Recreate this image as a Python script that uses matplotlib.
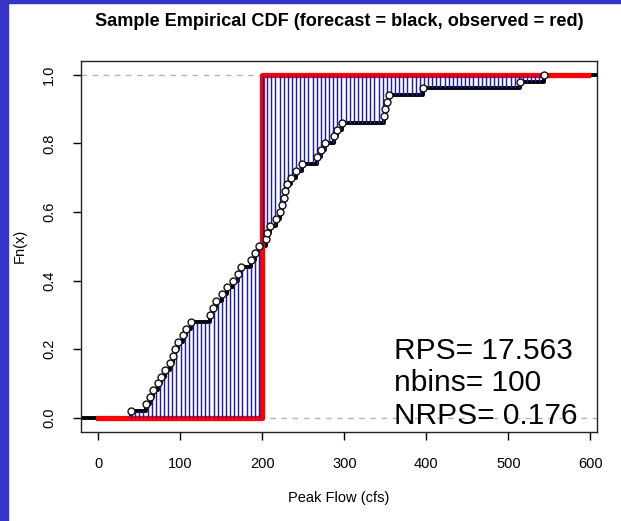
import numpy as np
import matplotlib.pyplot as plt
from matplotlib.patches import Rectangle

# forecast ensemble members (peak flow, cfs)
forecast = [40, 58, 63, 67, 73, 77, 81, 88, 91, 94,
            97, 103, 107, 113, 136, 140, 143, 151, 157, 164,
            170, 174, 186, 191, 196, 204, 206, 210, 217, 221,
            224, 227, 228, 230, 235, 241, 249, 267, 272, 277,
            287, 291, 297, 348, 350, 352, 354, 396, 514, 543]
observed = [200]
obs_extent = [0, 597]
nbins = 100
scores = ["RPS= 17.563", "nbins= 100", "NRPS= 0.176"]
score_y = [0.196, 0.100, 0.006]

xticks = [0, 100, 200, 300, 400, 500, 600]
yticks = [0.0, 0.2, 0.4, 0.6, 0.8, 1.0]

plt.rcParams['font.family'] = ['Liberation Sans', 'DejaVu Sans']


def ecdf(sample, x):
	s = np.sort(sample)
	return np.searchsorted(s, x, side='right') / float(len(s))


fig = plt.figure(figsize=(6.21, 5.21), dpi=100)
# blue frame of the screenshot
fig.patches.append(Rectangle((0, 0), 8 / 621., 1, transform=fig.transFigure,
                             color='#3434c8', zorder=0))
fig.patches.append(Rectangle((0, 1 - 3 / 521.), 1, 3 / 521., transform=fig.transFigure,
                             color='#3434c8', zorder=0))

ax = fig.add_axes([81 / 621., 1 - 431.5 / 521., 516 / 621., 370.5 / 521.])
ax.set_xlim(-21.1, 608.2)
ax.set_ylim(-0.04, 1.04)

# dashed guides at 0 and 1
for h in (0, 1):
	ax.axhline(h, color='#b3b3b3', lw=1, ls=(0, (4, 4)), zorder=1)

# forecast ecdf (black)
fs = np.sort(forecast)
xs = np.concatenate(([-50], fs, [700]))
ax.step(xs, ecdf(forecast, xs), where='post', color='black', lw=2.8, zorder=2)

# observed ecdf (red)
xo = np.concatenate(([obs_extent[0]], np.sort(observed), [obs_extent[1]]))
ax.step(xo, ecdf(observed, xo), where='post', color='red', lw=3.8, zorder=3)

# differences at bin edges (blue)
allv = np.concatenate((forecast, observed))
bins = np.linspace(allv.min(), allv.max(), nbins + 1)
ax.vlines(bins, ecdf(forecast, bins), ecdf(observed, bins), color='#1e1eac', lw=1.05, zorder=4)

# ecdf points
ax.plot(fs, ecdf(forecast, fs), 'o', mfc='white', mec='#111111', mew=1.0, ms=5.0, zorder=5)

for s, y in zip(scores, score_y):
	ax.text(361, y, s, fontsize=21.5, va='center', ha='left', zorder=6)

ax.set_xticks(xticks)
ax.set_yticks(yticks)
ax.set_yticklabels(['%.1f' % v for v in yticks], rotation=90, va='center')
ax.tick_params(direction='out', length=6, width=1, labelsize=10.5)
ax.tick_params(axis='x', pad=12)
ax.tick_params(axis='y', pad=12)
for sp in ax.spines.values():
	sp.set_linewidth(1)
	sp.set_color('#222222')

ax.set_xlabel('Peak Flow (cfs)', fontsize=10.5, labelpad=15)
ax.set_ylabel('Fn(x)', fontsize=10.5, labelpad=11)
ax.set_title('Sample Empirical CDF (forecast = black, observed = red)',
             fontsize=13.1, fontweight='bold', pad=25)

fig.savefig('out.png', dpi=100)
